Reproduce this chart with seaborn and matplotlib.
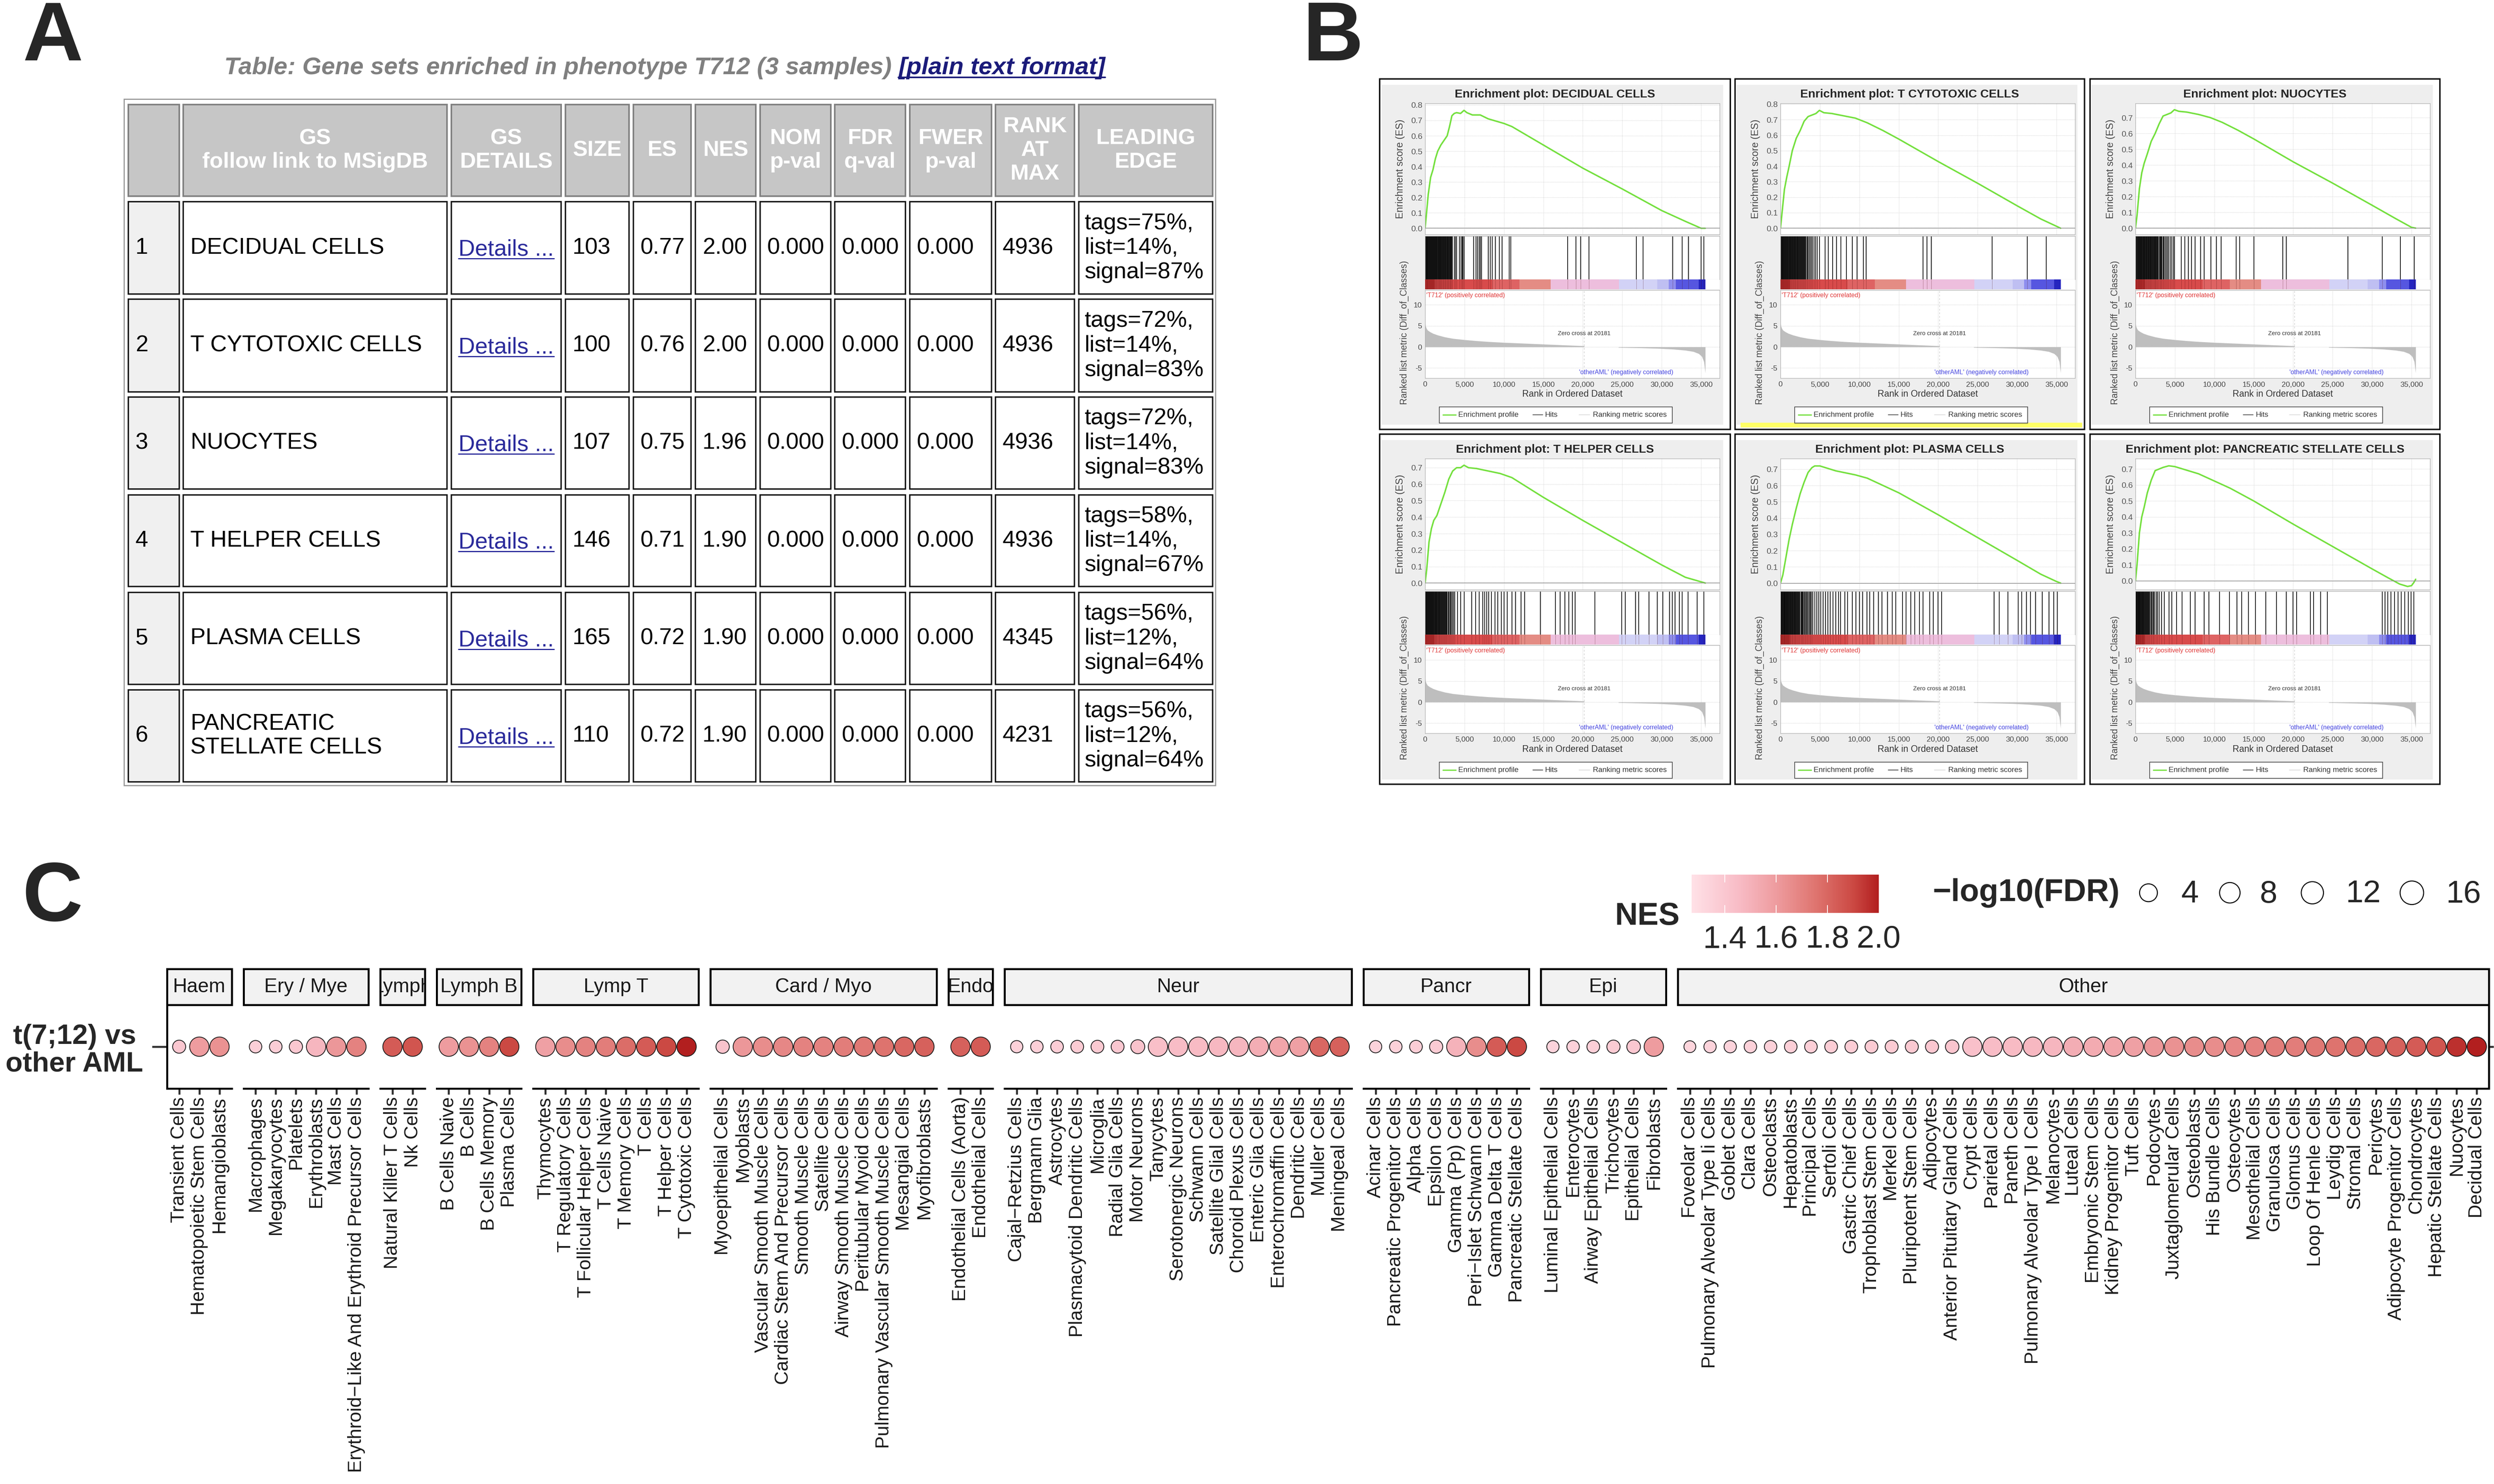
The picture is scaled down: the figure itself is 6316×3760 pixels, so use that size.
import matplotlib
matplotlib.use("Agg")
import matplotlib.pyplot as plt
import numpy as np
import pandas as pd
import seaborn as sns
from matplotlib.cm import ScalarMappable
from matplotlib.colors import LinearSegmentedColormap, Normalize, PowerNorm
from matplotlib.patches import Rectangle
from matplotlib.ticker import FuncFormatter

# ---------------- panel A: GSEA summary table ----------------
header_labels = ["", "GS\nfollow link to MSigDB", "GS\nDETAILS", "SIZE", "ES", "NES",
                 "NOM\np-val", "FDR\nq-val", "FWER\np-val", "RANK\nAT\nMAX", "LEADING\nEDGE"]
table_gs = ["DECIDUAL CELLS", "T CYTOTOXIC CELLS", "NUOCYTES", "T HELPER CELLS",
            "PLASMA CELLS", "PANCREATIC\nSTELLATE CELLS"]
table_size = [103, 100, 107, 146, 165, 110]
table_es = [0.77, 0.76, 0.75, 0.71, 0.72, 0.72]
table_nes = [2.00, 2.00, 1.96, 1.90, 1.90, 1.90]
table_nom_p = [0.000, 0.000, 0.000, 0.000, 0.000, 0.000]
table_fdr_q = [0.000, 0.000, 0.000, 0.000, 0.000, 0.000]
table_fwer_p = [0.000, 0.000, 0.000, 0.000, 0.000, 0.000]
table_rank_max = [4936, 4936, 4936, 4936, 4345, 4231]
table_tags = [75, 72, 72, 58, 56, 56]
table_list = [14, 14, 14, 14, 12, 12]
table_signal = [87, 83, 83, 67, 64, 64]

# ---------------- panel B: enrichment plots ----------------
gsea_names = ["DECIDUAL CELLS", "T CYTOTOXIC CELLS", "NUOCYTES",
              "T HELPER CELLS", "PLASMA CELLS", "PANCREATIC STELLATE CELLS"]

es_decidual_rank = [0, 150, 400, 700, 1000, 1300, 1600, 2000, 2400, 2800, 3100, 3400, 3700, 4000, 4500,
                    4936, 5300, 6000, 7000, 8000, 9000, 10000, 11000, 13000, 15000, 20000, 25000, 30000,
                    33000, 35000, 35530]
es_decidual_val = [0.0, 0.08, 0.22, 0.33, 0.38, 0.45, 0.50, 0.54, 0.57, 0.60, 0.66, 0.73, 0.745, 0.75, 0.745,
                   0.765, 0.75, 0.735, 0.735, 0.71, 0.695, 0.68, 0.66, 0.60, 0.54, 0.39, 0.255, 0.115,
                   0.045, 0.0, 0.0]
es_tcyto_rank = [0, 200, 500, 800, 1100, 1500, 2000, 2500, 3000, 3500, 4000, 4500, 4936, 5500, 6500, 8000,
                 9500, 11000, 13000, 15000, 20000, 25000, 30000, 33000, 35530]
es_tcyto_val = [0.0, 0.10, 0.25, 0.33, 0.40, 0.50, 0.58, 0.63, 0.69, 0.72, 0.73, 0.74, 0.76, 0.745, 0.74,
                0.725, 0.71, 0.68, 0.63, 0.575, 0.43, 0.29, 0.145, 0.06, 0.0]
es_nuo_rank = [0, 200, 500, 800, 1100, 1500, 2000, 2500, 3000, 3500, 4000, 4500, 4936, 5500, 6500, 8000,
               9500, 11000, 13000, 15000, 20000, 25000, 30000, 33000, 35000, 35530]
es_nuo_val = [0.0, 0.08, 0.25, 0.35, 0.41, 0.47, 0.55, 0.60, 0.66, 0.71, 0.72, 0.73, 0.75, 0.74, 0.735,
              0.72, 0.70, 0.67, 0.62, 0.565, 0.42, 0.285, 0.145, 0.06, 0.005, 0.0]
es_thelper_rank = [0, 200, 500, 800, 1100, 1500, 2000, 2500, 3000, 3500, 4000, 4500, 4936, 5500, 6500, 8000,
                   9500, 11000, 13000, 15000, 20000, 25000, 30000, 33000, 35530]
es_thelper_val = [0.0, 0.08, 0.25, 0.33, 0.38, 0.41, 0.48, 0.55, 0.63, 0.68, 0.70, 0.70, 0.715, 0.70, 0.695,
                  0.68, 0.665, 0.64, 0.58, 0.52, 0.38, 0.245, 0.11, 0.035, 0.0]
es_plasma_rank = [0, 300, 700, 1100, 1500, 2000, 2500, 3000, 3500, 4000, 4345, 5000, 6000, 7000, 8000, 9500,
                  11000, 13000, 15000, 20000, 25000, 30000, 33000, 35000, 35530]
es_plasma_val = [0.0, 0.05, 0.16, 0.27, 0.36, 0.46, 0.55, 0.62, 0.68, 0.71, 0.72, 0.72, 0.705, 0.69, 0.68,
                 0.665, 0.645, 0.60, 0.555, 0.42, 0.28, 0.14, 0.055, 0.01, 0.0]
es_stellate_rank = [0, 200, 500, 800, 1100, 1500, 2000, 2500, 3000, 3500, 4231, 5000, 6000, 8000, 10000,
                    12000, 15000, 20000, 25000, 30000, 32000, 33500, 34500, 35000, 35300, 35530]
es_stellate_val = [0.0, 0.10, 0.30, 0.40, 0.46, 0.55, 0.63, 0.69, 0.70, 0.71, 0.72, 0.715, 0.70, 0.67, 0.625,
                   0.58, 0.50, 0.355, 0.215, 0.075, 0.02, -0.02, -0.035, -0.03, -0.01, 0.01]

hits_decidual = [30, 110, 190, 250, 320, 400, 470, 540, 610, 690, 760, 830, 910, 980, 1060, 1140, 1210,
                 1290, 1370, 1450, 1520, 1600, 1680, 1760, 1830, 1910, 1990, 2070, 2160, 2240, 2320, 2400,
                 2490, 2570, 2660, 2750, 2830, 2920, 3010, 3090, 3180, 3270, 3350, 3440, 3720, 3850, 4000,
                 4380, 4560, 4700, 4800, 4936, 6166, 6460, 6665, 6870, 7017, 7164, 7986, 8280, 8515, 8926,
                 9396, 9748, 10687, 10863, 18057, 19143, 19730, 20758, 26777, 27658, 31387, 32591, 33384,
                 35000, 35352]
hits_tcyto = [20, 90, 160, 230, 300, 370, 450, 520, 590, 670, 740, 820, 900, 970, 1050, 1130, 1200, 1280,
              1360, 1450, 1530, 1610, 1700, 1780, 1870, 1950, 2040, 2130, 2220, 2310, 2400, 2500, 2590,
              2690, 2790, 2890, 3000, 3100, 3220, 3330, 3460, 3600, 3750, 3900, 4080, 4250, 4450, 4650,
              4936, 5650, 6080, 6600, 7120, 7650, 8340, 9120, 9730, 10510, 10860, 18070, 18590, 19110,
              26850, 31280, 33710]
hits_nuo = [40, 120, 200, 280, 350, 430, 510, 590, 660, 740, 820, 900, 980, 1050, 1130, 1210, 1300, 1380,
            1460, 1540, 1630, 1710, 1800, 1880, 1970, 2060, 2150, 2240, 2330, 2430, 2520, 2620, 2720, 2820,
            2920, 3030, 3140, 3250, 3370, 3490, 3620, 3760, 3900, 4060, 4230, 4420, 4620, 4800, 4936, 5820,
            6255, 6690, 7120, 7560, 8250, 8690, 9560, 10250, 10860, 12770, 13200, 15030, 18680, 19110,
            26930, 31280, 33620, 35360]
hits_thelper = [30, 100, 170, 240, 320, 390, 460, 540, 610, 690, 760, 840, 920, 990, 1070, 1150, 1230,
                1310, 1390, 1470, 1560, 1640, 1730, 1820, 1910, 2000, 2090, 2190, 2290, 2390, 2490, 2600,
                2710, 2820, 2940, 3060, 3190, 3320, 3460, 3610, 3780, 4083, 4518, 4952, 5908, 6429, 6864,
                7298, 7559, 7819, 8080, 8427, 8862, 9209, 9644, 9991, 10426, 11034, 11468, 12163, 12598,
                14596, 16508, 17115, 17724, 18245, 18680, 19027, 21546, 24935, 25369, 26673, 27107, 28410,
                29453, 30148, 31016, 31364, 31711, 32232, 32580, 33362, 34491, 35360]
hits_plasma = [20, 90, 150, 220, 290, 360, 430, 500, 570, 640, 720, 790, 870, 940, 1020, 1100, 1180, 1260,
               1340, 1430, 1510, 1600, 1690, 1780, 1870, 1960, 2060, 2160, 2260, 2360, 2470, 2580, 2690,
               2800, 2920, 3040, 3160, 3290, 3420, 3550, 3690, 3830, 3980, 4130, 4345, 4600, 4850, 5100,
               5400, 5700, 6000, 6300, 6650, 7000, 7350, 7600, 8167, 8514, 9123, 9557, 9991, 10426, 10947,
               11295, 11816, 12424, 12859, 13554, 14162, 14596, 15465, 15899, 16507, 17028, 17636, 18071,
               18940, 19374, 19982, 20417, 27107, 27715, 28845, 30148, 30582, 31190, 31711, 32320, 33189,
               34058, 34666, 35101]
hits_stellate = [30, 90, 150, 210, 280, 340, 410, 480, 550, 620, 700, 780, 860, 940, 1020, 1110, 1200,
                 1290, 1390, 1490, 1590, 1700, 1810, 1930, 2050, 2180, 2320, 2470, 2630, 2800, 2980, 3301,
                 3649, 4231, 4605, 5213, 5908, 6950, 7559, 8688, 9296, 10686, 11903, 12858, 13467, 14336,
                 15204, 16507, 17897, 19114, 19983, 20417, 22155, 22589, 23458, 24327, 31277, 31625, 31972,
                 32407, 32841, 33275, 33710, 34144, 34579, 34926, 35274]

es_ylims = [(-0.04, 0.81), (-0.04, 0.805), (-0.04, 0.79), (-0.04, 0.755), (-0.04, 0.765), (-0.055, 0.765)]

# ranked list metric (same ranked list for every gene set)
metric_rank = [0, 60, 150, 300, 600, 1000, 1600, 2500, 3500, 5000, 6500, 8000, 10000, 12500, 15000, 17500,
               20181, 20181, 24500, 24500, 27000, 29500, 31500, 33000, 34000, 34700, 35100, 35350, 35530]
metric_val = [5.8, 5.0, 4.5, 4.0, 3.6, 3.2, 2.8, 2.35, 2.0, 1.7, 1.45, 1.25, 1.05, 0.85, 0.65, 0.45,
              0.25, 0.0, 0.0, -0.12, -0.22, -0.35, -0.55, -0.8, -1.1, -1.6, -2.3, -3.5, -6.2]
bar_start = [0, 1200, 8500, 11950, 15910, 24570, 29420, 30890, 31770, 34700]
bar_end = [1200, 8500, 11950, 15910, 24570, 29420, 30890, 31770, 34700, 35530]
bar_colors = ["#C23232", "#D84B4B", "#DE6363", "#E48C84", "#EDBEDD", "#D2D2F6", "#BFBFF2",
              "#8E8EEE", "#5656E0", "#2525BF"]

# ---------------- panel C: dot plot ----------------
facet_labels = ["Haem", "Ery / Mye", "Lymph", "Lymph B", "Lymp T", "Card / Myo", "Endo",
                "Neur", "Pancr", "Epi", "Other"]
facet_counts = [3, 6, 2, 4, 8, 11, 2, 17, 8, 6, 40]
cell_types = [
    "Transient Cells", "Hematopoietic Stem Cells", "Hemangioblasts",
    "Macrophages", "Megakaryocytes", "Platelets", "Erythroblasts", "Mast Cells",
    "Erythroid\u2212Like And Erythroid Precursor Cells",
    "Natural Killer T Cells", "Nk Cells",
    "B Cells Naive", "B Cells", "B Cells Memory", "Plasma Cells",
    "Thymocytes", "T Regulatory Cells", "T Follicular Helper Cells", "T Cells Naive", "T Memory Cells",
    "T Cells", "T Helper Cells", "T Cytotoxic Cells",
    "Myoepithelial Cells", "Myoblasts", "Vascular Smooth Muscle Cells", "Cardiac Stem And Precursor Cells",
    "Smooth Muscle Cells", "Satellite Cells", "Airway Smooth Muscle Cells", "Peritubular Myoid Cells",
    "Pulmonary Vascular Smooth Muscle Cells", "Mesangial Cells", "Myofibroblasts",
    "Endothelial Cells (Aorta)", "Endothelial Cells",
    "Cajal\u2212Retzius Cells", "Bergmann Glia", "Astrocytes", "Plasmacytoid Dendritic Cells", "Microglia",
    "Radial Glia Cells", "Motor Neurons", "Tanycytes", "Serotonergic Neurons", "Schwann Cells",
    "Satellite Glial Cells", "Choroid Plexus Cells", "Enteric Glia Cells", "Enterochromaffin Cells",
    "Dendritic Cells", "Muller Cells", "Meningeal Cells",
    "Acinar Cells", "Pancreatic Progenitor Cells", "Alpha Cells", "Epsilon Cells", "Gamma (Pp) Cells",
    "Peri\u2212Islet Schwann Cells", "Gamma Delta T Cells", "Pancreatic Stellate Cells",
    "Luminal Epithelial Cells", "Enterocytes", "Airway Epithelial Cells", "Trichocytes", "Epithelial Cells",
    "Fibroblasts",
    "Foveolar Cells", "Pulmonary Alveolar Type Ii Cells", "Goblet Cells", "Clara Cells", "Osteoclasts",
    "Hepatoblasts", "Principal Cells", "Sertoli Cells", "Gastric Chief Cells", "Trophoblast Stem Cells",
    "Merkel Cells", "Pluripotent Stem Cells", "Adipocytes", "Anterior Pituitary Gland Cells", "Crypt Cells",
    "Parietal Cells", "Paneth Cells", "Pulmonary Alveolar Type I Cells", "Melanocytes", "Luteal Cells",
    "Embryonic Stem Cells", "Kidney Progenitor Cells", "Tuft Cells", "Podocytes", "Juxtaglomerular Cells",
    "Osteoblasts", "His Bundle Cells", "Osteocytes", "Mesothelial Cells", "Granulosa Cells", "Glomus Cells",
    "Loop Of Henle Cells", "Leydig Cells", "Stromal Cells", "Pericytes", "Adipocyte Progenitor Cells",
    "Chondrocytes", "Hepatic Stellate Cells", "Nuocytes", "Decidual Cells",
]
nes_values = [
    1.40, 1.60, 1.64,
    1.36, 1.37, 1.40, 1.48, 1.62, 1.70,
    1.84, 1.86,
    1.60, 1.64, 1.70, 1.90,
    1.58, 1.66, 1.70, 1.72, 1.78, 1.84, 1.90, 2.00,
    1.42, 1.62, 1.66, 1.68, 1.70, 1.70, 1.72, 1.74, 1.76, 1.80, 1.82,
    1.82, 1.84,
    1.35, 1.36, 1.37, 1.38, 1.39, 1.40, 1.42, 1.44, 1.45, 1.46, 1.47, 1.48, 1.52, 1.56, 1.58, 1.80, 1.82,
    1.34, 1.35, 1.37, 1.38, 1.50, 1.66, 1.84, 1.90,
    1.34, 1.35, 1.36, 1.38, 1.40, 1.60,
    1.33, 1.34, 1.34, 1.35, 1.35, 1.36, 1.36, 1.37, 1.37, 1.38, 1.38, 1.39, 1.40, 1.41, 1.43, 1.45, 1.46,
    1.47, 1.48, 1.52, 1.53, 1.56, 1.58, 1.62, 1.64, 1.66, 1.66, 1.68, 1.70, 1.72, 1.72, 1.74, 1.76, 1.78,
    1.80, 1.82, 1.84, 1.86, 1.96, 2.00,
]
neg_log10_fdr = [
    1.38, 6.0, 6.0,
    1.32, 1.33, 1.40, 6.0, 6.0, 6.0,
    6.0, 6.0,
    6.0, 6.0, 6.0, 6.0,
    6.0, 6.0, 6.0, 6.0, 6.0, 6.0, 6.0, 6.0,
    1.42, 6.0, 6.0, 6.0, 6.0, 6.0, 6.0, 6.0, 6.0, 6.0, 6.0,
    6.0, 6.0,
    1.31, 1.32, 1.33, 1.34, 1.35, 1.36, 1.55, 6.0, 6.0, 6.0, 6.0, 6.0, 6.0, 6.0, 6.0, 6.0, 6.0,
    1.31, 1.32, 1.34, 1.40, 6.0, 6.0, 6.0, 6.0,
    1.31, 1.32, 1.34, 1.40, 1.48, 6.0,
    1.30, 1.31, 1.31, 1.32, 1.32, 1.33, 1.33, 1.34, 1.34, 1.35, 1.36, 1.37, 1.38, 1.45, 6.0, 6.0, 6.0,
    6.0, 6.0, 6.0, 6.0, 6.0, 6.0, 6.0, 6.0, 6.0, 6.0, 6.0, 6.0, 6.0, 6.0, 6.0, 6.0, 6.0,
    6.0, 6.0, 6.0, 6.0, 6.0, 6.0,
]
size_breaks = [4, 8, 12, 16]
nes_ticks = [1.4, 1.6, 1.8, 2.0]
contrast_label = "t(7;12) vs\nother AML"

# ---------------------------------------------------------------------------
sns.set_theme(style="white")
plt.rcParams["font.family"] = ["Liberation Sans", "DejaVu Sans"]

W, H = 6316, 3760
fig = plt.figure(figsize=(W / 72, H / 72), dpi=72)


def px_axes(x0, y0, x1, y1):
    return fig.add_axes([x0 / W, 1 - y1 / H, (x1 - x0) / W, (y1 - y0) / H])


canvas = px_axes(0, 0, W, H)
canvas.set_xlim(0, W)
canvas.set_ylim(H, 0)
canvas.axis("off")
canvas.patch.set_alpha(0)
renderer = fig.canvas.get_renderer()

for letter, lx, ly in [("A", 58, 153), ("B", 3300, 153), ("C", 56, 2333)]:
    canvas.text(lx, ly, letter, fontsize=212, fontweight="bold", va="baseline")

# ---------------- panel A ----------------
col_x = [(325, 454), (464, 1132), (1143, 1421), (1432, 1593), (1604, 1750), (1761, 1914),
         (1925, 2104), (2114, 2293), (2304, 2511), (2521, 2721), (2732, 3071)]
row_y = [(265, 497), (511, 745), (758, 993), (1006, 1239), (1254, 1486), (1501, 1734), (1748, 1981)]

t1 = canvas.text(568, 188, "Table: Gene sets enriched in phenotype T712 (3 samples) ",
                 fontsize=62, fontweight="bold", style="italic", color="#808080", va="baseline")
bb = t1.get_window_extent(renderer)
inv = canvas.transData.inverted()
x_link = inv.transform((bb.x1, 0))[0]
t2 = canvas.text(x_link, 188, "[plain text format]", fontsize=62, fontweight="bold", style="italic",
                 color="#1B1B7A", va="baseline")
bb2 = t2.get_window_extent(renderer)
canvas.plot([inv.transform((bb2.x0, 0))[0], inv.transform((bb2.x1, 0))[0]], [196, 196],
            color="#1B1B7A", lw=4)

canvas.add_patch(Rectangle((314, 251), 3078 - 314, 1990 - 251, fill=False, ec="#9A9A9A", lw=3))

hx0, hx1 = row_y[0]
for (cx0, cx1), lab in zip(col_x, header_labels):
    canvas.add_patch(Rectangle((cx0, hx0), cx1 - cx0, hx1 - hx0, fc="#C6C6C6", ec="#808080", lw=4))
    canvas.text((cx0 + cx1) / 2, (hx0 + hx1) / 2, lab, fontsize=56, fontweight="bold", color="white",
                ha="center", va="center", linespacing=1.2)

for i in range(len(table_gs)):
    ry0, ry1 = row_y[i + 1]
    cells = [str(i + 1), table_gs[i], "Details ...", str(table_size[i]), f"{table_es[i]:.2f}",
             f"{table_nes[i]:.2f}", f"{table_nom_p[i]:.3f}", f"{table_fdr_q[i]:.3f}", f"{table_fwer_p[i]:.3f}",
             str(table_rank_max[i]),
             f"tags={table_tags[i]}%,\nlist={table_list[i]}%,\nsignal={table_signal[i]}%"]
    for j, ((cx0, cx1), txt) in enumerate(zip(col_x, cells)):
        canvas.add_patch(Rectangle((cx0, ry0), cx1 - cx0, ry1 - ry0,
                                   fc="#F0F0F0" if j == 0 else "white", ec="#111111", lw=3.5))
        ymid = (ry0 + ry1) / 2
        if j == 2:
            tt = canvas.text(cx0 + 18, ymid + 20, txt, fontsize=58, color="#2B2B9B", va="baseline")
            bbd = tt.get_window_extent(renderer)
            canvas.plot([inv.transform((bbd.x0, 0))[0], inv.transform((bbd.x1, 0))[0]],
                        [ymid + 27, ymid + 27], color="#2B2B9B", lw=3)
        else:
            canvas.text(cx0 + (14 if j == 10 else 18), ymid, txt, fontsize=58, color="black",
                        va="center", linespacing=1.2 if j == 10 else 1.12)

# ---------------- panel B ----------------
frame_cols = [(3494, 4382), (4394, 5279), (5293, 6179)]
frame_rows = [(200, 1088), (1100, 1987)]
es_ranks = [es_decidual_rank, es_tcyto_rank, es_nuo_rank, es_thelper_rank, es_plasma_rank, es_stellate_rank]
es_vals = [es_decidual_val, es_tcyto_val, es_nuo_val, es_thelper_val, es_plasma_val, es_stellate_val]
hit_lists = [hits_decidual, hits_tcyto, hits_nuo, hits_thelper, hits_plasma, hits_stellate]
XMAX = 37350
green = "#74E03E"


def style_gsea_axes(ax):
    ax.set_xlim(0, XMAX)
    ax.set_facecolor("white")
    for s in ax.spines.values():
        s.set_color("#A8A8A8")
        s.set_linewidth(1.2)


for k, name in enumerate(gsea_names):
    fx0, fx1 = frame_cols[k % 3]
    fy0, fy1 = frame_rows[k // 3]
    canvas.add_patch(Rectangle((fx0 + 4, fy0 + 15), fx1 - fx0 - 22, fy1 - fy0 - 27, fc="#EEEEEE", ec="none"))
    canvas.add_patch(Rectangle((fx0, fy0), fx1 - fx0, fy1 - fy0, fill=False, ec="black", lw=3.5))
    if k == 1:
        canvas.add_patch(Rectangle((fx0 + 14, fy1 - 17), fx1 - fx0 - 20, 12, fc="#FFFF66", ec="none"))
    canvas.text((fx0 + fx1) / 2, fy0 + 39, f"Enrichment plot: {name}", fontsize=30, fontweight="bold",
                ha="center", va="center")

    # running enrichment score
    ax_es = px_axes(fx0 + 115, fy0 + 62, fx0 + 861, fy0 + 394)
    style_gsea_axes(ax_es)
    sns.lineplot(x=es_ranks[k], y=es_vals[k], ax=ax_es, color=green, linewidth=3.8,
                 estimator=None, sort=False)
    ax_es.axhline(0, color="#8C8C8C", lw=1.6)
    ylo, yhi = es_ylims[k]
    ax_es.set_ylim(ylo, yhi)
    ax_es.set_yticks(np.arange(0, yhi, 0.1))
    ax_es.yaxis.set_major_formatter(FuncFormatter(lambda v, p: f"{v:.1f}"))
    ax_es.set_xticks(range(0, 35001, 5000))
    ax_es.tick_params(axis="x", labelbottom=False, length=0)
    ax_es.tick_params(axis="y", labelsize=21, labelcolor="#555555", length=4, color="#888888", pad=3)
    ax_es.grid(True, ls=":", color="#C4C4C4", lw=1.2)
    canvas.text(fx0 + 52, fy0 + 228, "Enrichment score (ES)", rotation=90, fontsize=25, color="#444444",
                ha="center", va="center")

    # hits
    ax_hit = px_axes(fx0 + 115, fy0 + 398, fx0 + 861, fy0 + 508)
    style_gsea_axes(ax_hit)
    ax_hit.vlines(hit_lists[k], 0, 1, color="black", lw=1.8)
    ax_hit.set_ylim(0, 1)
    ax_hit.set_xticks([])
    ax_hit.set_yticks([])

    # ranked-list colour bar
    ax_bar = px_axes(fx0 + 115, fy0 + 508, fx0 + 861, fy0 + 533)
    ax_bar.set_xlim(0, XMAX)
    ax_bar.set_ylim(0, 1)
    for b0, b1, c in zip(bar_start, bar_end, bar_colors):
        ax_bar.axvspan(b0, b1, color=c, lw=0)
    ax_bar.vlines(hit_lists[k], 0, 1, color="#400000", lw=1.0, alpha=0.35)
    ax_bar.set_xticks([])
    ax_bar.set_yticks([])
    for s in ax_bar.spines.values():
        s.set_visible(False)

    # ranked list metric
    ax_m = px_axes(fx0 + 115, fy0 + 535, fx0 + 861, fy0 + 758)
    style_gsea_axes(ax_m)
    ax_m.fill_between(metric_rank, metric_val, 0, color="#BEBEBE", lw=0)
    ax_m.axvline(20181, color="#D0D0D0", lw=1.5, ls=(0, (3, 3)))
    ax_m.set_ylim(-7.4, 13.5)
    ax_m.set_yticks([-5, 0, 5, 10])
    ax_m.yaxis.set_major_formatter(FuncFormatter(lambda v, p: f"{v:.0f}"))
    ax_m.set_xticks(range(0, 35001, 5000))
    ax_m.xaxis.set_major_formatter(FuncFormatter(lambda v, p: f"{int(v):,}"))
    ax_m.tick_params(labelsize=19, labelcolor="#444444", length=4, color="#888888", pad=4)
    ax_m.grid(True, ls=":", color="#C4C4C4", lw=1.2)
    ax_m.set_xlabel("Rank in Ordered Dataset", fontsize=23, color="#333333", labelpad=4)
    ax_m.text(0.004, 0.975, "'T712' (positively correlated)", transform=ax_m.transAxes, fontsize=16,
              color="#E03A3A", ha="left", va="top")
    ax_m.text(20181, 3.2, "Zero cross at 20181", fontsize=15, color="#333333", ha="center", va="center")
    ax_m.text(25480, -6.0, "'otherAML' (negatively correlated)", fontsize=16, color="#4848E0",
              ha="center", va="center")
    canvas.text(fx0 + 63, fy0 + 643, "Ranked list metric (Diff_of_Classes)", rotation=90, fontsize=23,
                color="#444444", ha="center", va="center")

    # legend box
    ly = fy0 + 851
    canvas.add_patch(Rectangle((fx0 + 151, fy0 + 831), 590, 41, fc="white", ec="#333333", lw=1.6))
    canvas.plot([fx0 + 160, fx0 + 193], [ly, ly], color=green, lw=3)
    canvas.text(fx0 + 199, ly, "Enrichment profile", fontsize=19, color="#333333", va="center")
    canvas.plot([fx0 + 388, fx0 + 413], [ly, ly], color="#555555", lw=2)
    canvas.text(fx0 + 419, ly, "Hits", fontsize=19, color="#333333", va="center")
    canvas.plot([fx0 + 505, fx0 + 532], [ly, ly], color="#DDDDDD", lw=2)
    canvas.text(fx0 + 540, ly, "Ranking metric scores", fontsize=19, color="#333333", va="center")

# ---------------- panel C ----------------
dots = pd.DataFrame({
    "group": np.repeat(facet_labels, facet_counts),
    "cell": cell_types,
    "contrast": contrast_label,
    "NES": nes_values,
    "lfdr": neg_log10_fdr,
})

nes_cmap = LinearSegmentedColormap.from_list(
    "nes", [(0.0, "#FFE1E7"), (0.25, "#F8BCC6"), (0.45, "#EE9C9F"), (0.66, "#DF7570"),
            (0.86, "#CC4A44"), (1.0, "#B21F1F")])
nes_norm = Normalize(1.27, 2.0)
size_norm = PowerNorm(0.5, vmin=1.3, vmax=16.5)
size_range = (900, 3600)

x_cursor = 423.0
unit, gap = 51.1, 30
strip_top, strip_bot, panel_bot = 2455, 2546, 2758
start = 0
for k, (lab, n) in enumerate(zip(facet_labels, facet_counts)):
    wpx = unit * (n + 0.2)
    sub = dots.iloc[start:start + n]
    ax = px_axes(x_cursor, strip_bot, x_cursor + wpx, panel_bot)
    sns.scatterplot(data=sub, x="cell", y="contrast", hue="NES", size="lfdr", palette=nes_cmap,
                    hue_norm=nes_norm, sizes=size_range, size_norm=size_norm, edgecolor="#1A1A1A",
                    linewidth=2, legend=False, ax=ax, zorder=3)
    ax.set_xlim(-0.6, n - 0.4)
    ax.set_ylim(-0.6, 0.6)
    ax.set_xlabel("")
    ax.set_ylabel("")
    ax.set_facecolor("white")
    ax.set_xticks(range(n))
    ax.set_xticklabels(sub["cell"], rotation=90, fontsize=48, color="#1A1A1A", ha="center", va="top")
    ax.tick_params(axis="x", bottom=True, length=15, width=5, color="#333333", pad=6)
    for s in ax.spines.values():
        s.set_visible(False)
    ax.spines["bottom"].set_visible(True)
    ax.spines["bottom"].set_linewidth(5)
    ax.spines["bottom"].set_color("black")
    if k == 0:
        ax.spines["left"].set_visible(True)
        ax.spines["left"].set_linewidth(5)
        ax.spines["left"].set_color("black")
        ax.tick_params(axis="y", left=True, length=38, width=5, color="#333333", pad=22)
        for t in ax.get_yticklabels():
            t.set_fontsize(71)
            t.set_fontweight("bold")
            t.set_multialignment("center")
            t.set_linespacing(1.08)
    elif k == len(facet_labels) - 1:
        ax.spines["right"].set_visible(True)
        ax.spines["right"].set_linewidth(5)
        ax.spines["right"].set_color("black")
        ax.tick_params(axis="y", left=False, labelleft=False, right=True, length=12, width=5,
                       color="#333333")
    else:
        ax.tick_params(axis="y", left=False, labelleft=False)

    sax = px_axes(x_cursor, strip_top, x_cursor + wpx, strip_bot)
    sax.set_facecolor("#F2F2F2")
    sax.set_xticks([])
    sax.set_yticks([])
    for s in sax.spines.values():
        s.set_linewidth(5)
        s.set_color("black")
    sax.text(0.5, 0.5, lab, transform=sax.transAxes, fontsize=50, color="#1A1A1A", ha="center",
             va="center", clip_on=True)

    x_cursor += wpx + gap
    start += n

# legends
canvas.text(4090, 2322, "NES", fontsize=80, fontweight="bold", va="center")
cax = px_axes(4284, 2216, 4758, 2313)
cb = fig.colorbar(ScalarMappable(norm=nes_norm, cmap=nes_cmap), cax=cax, orientation="horizontal")
cb.outline.set_visible(False)
cb.set_ticks(nes_ticks)
cb.ax.tick_params(length=0, labelsize=80, pad=30)
for v in nes_ticks[:-1]:
    cax.plot([v, v], [0, 0.2], color="white", lw=2, transform=cax.get_xaxis_transform())
    cax.plot([v, v], [0.8, 1], color="white", lw=2, transform=cax.get_xaxis_transform())

canvas.text(4895, 2262, "\u2212log10(FDR)", fontsize=80, fontweight="bold", va="center")
leg_x = [5441, 5647, 5856, 6108]
leg_tx = [5523, 5723, 5941, 6195]
leg_sizes = [size_range[0] + (size_range[1] - size_range[0]) * float(size_norm(v)) for v in size_breaks]
canvas.scatter(leg_x, [2262] * 4, s=leg_sizes, facecolor="white", edgecolor="black", linewidth=2.5,
               zorder=3)
for tx, v in zip(leg_tx, size_breaks):
    canvas.text(tx, 2266, str(v), fontsize=80, va="center")

fig.savefig("out.png", dpi=72)
